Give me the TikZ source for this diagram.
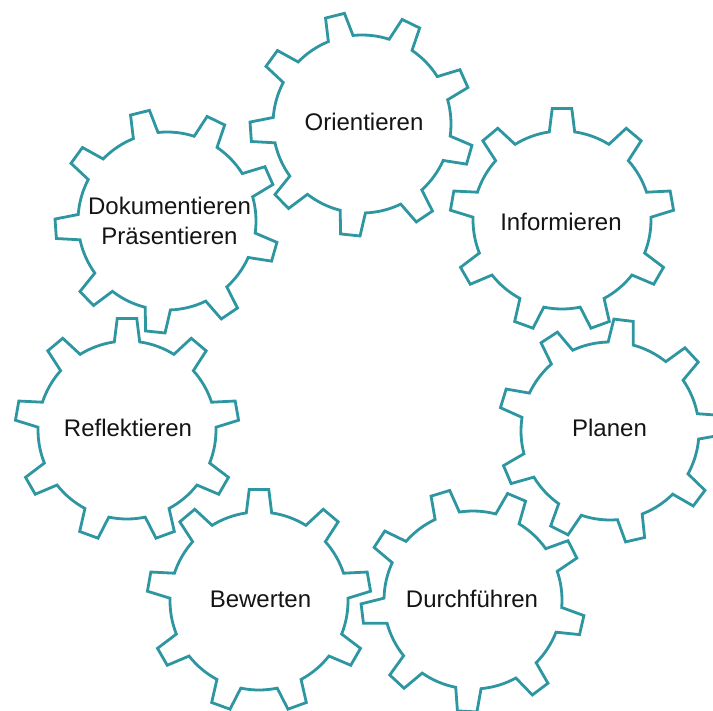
\documentclass[tikz,border=0pt]{standalone}
\usepackage{fontspec}
\setmainfont{Liberation Sans}
\definecolor{gearteal}{RGB}{45,150,160}
\tikzset{
  gear/.style={draw=gearteal, line width=2.1pt, fill=white, line join=miter},
  lbl/.style={font=\fontsize{18}{22.5}\selectfont, text=black!92, align=center, inner sep=0pt}
}
\newcommand{\geardraw}[4]{%
  \coordinate (#1) at (#2,-#3);
  \draw[gear] ([shift={(#1)}]{#4+8.2}:89)
    \foreach \i in {1,...,9}{
      arc[start angle={#4+40*\i-40+8.2}, end angle={#4+40*\i-8.2}, radius=89]
      -- ([shift={(#1)}]{#4+40*\i-5}:112)
      -- ([shift={(#1)}]{#4+40*\i+5}:112)
      -- ([shift={(#1)}]{#4+40*\i+8.2}:89)
    } -- cycle;
}
\begin{document}
\begin{tikzpicture}[x=0.75pt,y=0.75pt]
\useasboundingbox (0,0) rectangle (713,-710);
\geardraw{gO}{362}{124}{104}
\geardraw{gI}{562}{220}{90}
\geardraw{gP}{610}{431}{83}
\geardraw{gD}{473}{600}{107}
\geardraw{gB}{259}{601}{90}
\geardraw{gR}{127}{430}{90}
\geardraw{gK}{167}{221}{104}
\node[lbl] (tO) at (364,-122) {Orientieren};
\node[lbl] (tI) at (561,-222) {Informieren};
\node[lbl] (tP) at (609.5,-427.5) {Planen};
\node[lbl] (tD) at (472,-599) {Durchführen};
\node[lbl] (tB) at (260.5,-599) {Bewerten};
\node[lbl] (tR) at (128,-427.5) {Reflektieren};
\node[lbl] (tK) at (169.5,-221) {Dokumentieren\\Präsentieren};
\end{tikzpicture}
\end{document}
